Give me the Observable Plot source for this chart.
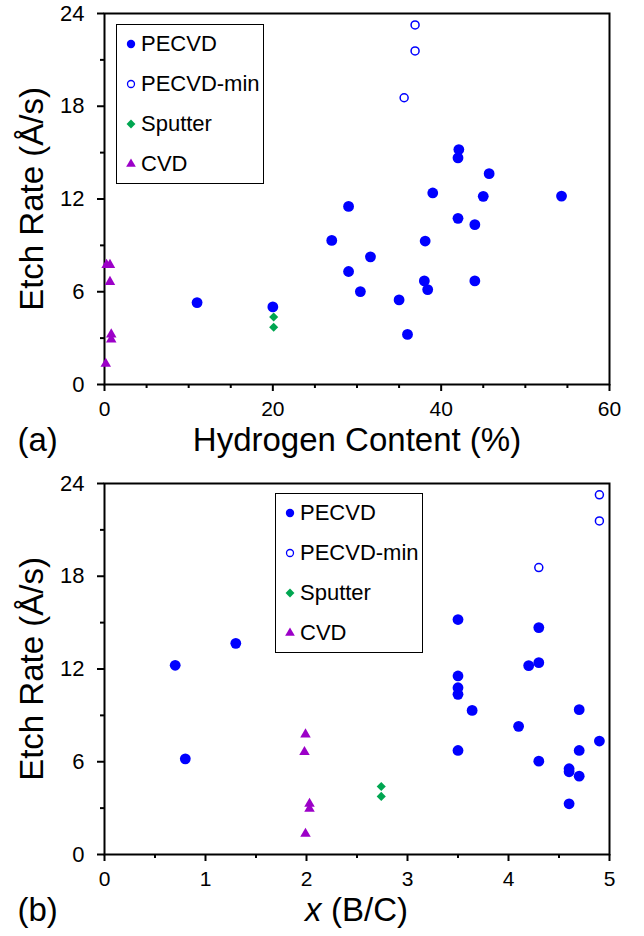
<!DOCTYPE html>
<html>
<head>
<meta charset="utf-8">
<script src="https://cdn.jsdelivr.net/npm/d3@7"></script>
<script src="https://cdn.jsdelivr.net/npm/@observablehq/plot@0.6"></script>
<style>
  html, body { margin: 0; padding: 0; background: white; }
  .panel { position: relative; width: 644px; }
</style>
</head>
<body>
<div id="panelA" class="panel"></div>
<div id="panelB" class="panel"></div>
<script>
// ---------- data ----------
const seriesNames = ["PECVD", "PECVD-min", "Sputter", "CVD"];
const seriesColors = ["#0000ff", "#0000ff", "#00a651", "#9c00c8"];

// Panel (a): Hydrogen content (%) vs etch rate (Å/s)
const pecvdH     = [11.0, 20.0, 27.0, 29.0, 29.0, 30.4, 31.6, 35.0, 36.0, 38.1, 38.0, 38.4, 39.0, 42.1, 42.0, 42.0, 44.0, 44.0, 45.0, 45.7, 54.3];
const pecvdRateA = [5.30, 5.02, 9.32, 11.52, 7.31, 6.01, 8.26, 5.47, 3.24, 9.28, 6.70, 6.14, 12.39, 15.2, 14.66, 10.75, 10.34, 6.70, 12.17, 13.64, 12.19];
const minH       = [36.9, 36.9, 35.6];
const minRateA   = [23.26, 21.58, 18.55];
const sputH      = [20.1, 20.1];
const sputRateA  = [4.37, 3.70];
const cvdH       = [0.25, 0.65, 0.65, 0.8, 0.8, 0.15];
const cvdRateA   = [7.74, 7.74, 6.64, 3.24, 2.92, 1.34];

// Panel (b): x (B/C) vs etch rate (Å/s)
const pecvdX     = [0.70, 0.80, 1.30, 3.50, 3.50, 3.50, 3.50, 3.64, 3.50, 4.10, 4.20, 4.30, 4.30, 4.30, 4.60, 4.60, 4.60, 4.70, 4.70, 4.70, 4.90];
const pecvdRateB = [12.24, 6.19, 13.66, 15.2, 11.55, 10.79, 10.36, 9.32, 6.73, 8.29, 12.22, 12.41, 14.68, 6.04, 5.55, 5.35, 3.28, 9.37, 6.73, 5.07, 7.34];
const minX       = [4.9, 4.9, 4.3];
const minRateB   = [23.27, 21.58, 18.56];
const sputX      = [2.74, 2.74];
const sputRateB  = [4.40, 3.76];
const cvdX       = [1.99, 1.98, 2.03, 2.03, 1.99];
const cvdRateB   = [7.77, 6.63, 3.28, 2.96, 1.34];

// ticks
const yMajor  = [0, 6, 12, 18, 24];
const yMinor  = [3, 9, 15, 21];
const xMajorA = [0, 20, 40, 60];
const xMinorA = [5, 10, 15, 25, 30, 35, 45, 50, 55];
const xMajorB = [0, 1, 2, 3, 4, 5];
const xMinorB = [0.5, 1.5, 2.5, 3.5, 4.5];

const yTitle  = "Etch Rate (Å/s)";
const xTitleA = "Hydrogen Content (%)";
const xTitleBItalic = "x";
const xTitleBRest = "(B/C)";
const tagA = "(a)";
const tagB = "(b)";

// ---------- helpers ----------
const FONT = "'Liberation Sans', Arial, Helvetica, sans-serif";
const pts = (xs, ys) => xs.map((x, i) => ({x, y: ys[i]}));

function seriesMarks(xs) {
  return [
    Plot.dot(pts(xs[3][0], xs[3][1]), {x: "x", y: "y", symbol: "triangle", r: 3.9, fill: seriesColors[3]}),
    Plot.dot(pts(xs[2][0], xs[2][1]), {x: "x", y: "y", symbol: "diamond2", r: 4.1, fill: seriesColors[2]}),
    Plot.dot(pts(xs[1][0], xs[1][1]), {x: "x", y: "y", symbol: "circle", r: 4.0, fill: "none", stroke: seriesColors[1], strokeWidth: 1.5}),
    Plot.dot(pts(xs[0][0], xs[0][1]), {x: "x", y: "y", symbol: "circle", r: 5.4, fill: seriesColors[0]})
  ];
}

function axes(xMajor, xMinor) {
  return [
    Plot.axisY(yMinor, {tickSize: 4, tickFormat: () => "", strokeWidth: 2, label: null}),
    Plot.axisY(yMajor, {tickSize: 7, tickPadding: 13, fontSize: 22, strokeWidth: 2, label: null}),
    Plot.axisX(xMinor, {tickSize: 4, tickFormat: () => "", strokeWidth: 2, label: null}),
    Plot.axisX(xMajor, {tickSize: 7, tickPadding: 10, fontSize: 21, strokeWidth: 2, label: null}),
    Plot.frame({stroke: "black", strokeWidth: 2})
  ];
}

function legendBox(left, top) {
  const box = document.createElement("div");
  box.style.cssText = `position:absolute;left:${left}px;top:${top}px;width:148px;height:160px;border:1.5px solid #000;box-sizing:border-box;background:white;font-family:${FONT};font-size:22px;color:#000;`;
  const types = [d3.symbolCircle, d3.symbolCircle, d3.symbolDiamond2, d3.symbolTriangle];
  const sizes = [Math.PI * 4.2 * 4.2, Math.PI * 3.5 * 3.5, Math.PI * 4.0 * 4.0, Math.PI * 3.6 * 3.6];
  seriesNames.forEach((name, i) => {
    const cy = 19 + i * 40;
    const svgNS = "http://www.w3.org/2000/svg";
    const svg = document.createElementNS(svgNS, "svg");
    svg.setAttribute("width", 14); svg.setAttribute("height", 14);
    svg.style.cssText = `position:absolute;left:${14 - 7}px;top:${cy - 7}px;overflow:visible;`;
    const p = document.createElementNS(svgNS, "path");
    p.setAttribute("d", d3.symbol(types[i], sizes[i])());
    p.setAttribute("transform", "translate(7,7)");
    if (i === 1) { p.setAttribute("fill", "none"); p.setAttribute("stroke", seriesColors[i]); p.setAttribute("stroke-width", 1.3); }
    else p.setAttribute("fill", seriesColors[i]);
    svg.appendChild(p);
    box.appendChild(svg);
    const t = document.createElement("div");
    t.textContent = name;
    t.style.cssText = `position:absolute;left:24px;top:${cy - 13}px;height:26px;line-height:26px;white-space:nowrap;`;
    box.appendChild(t);
  });
  return box;
}

// ---------- panel (a) ----------
const plotA = Plot.plot({
  width: 644, height: 470,
  marginLeft: 104, marginRight: 35, marginTop: 13, marginBottom: 86,
  style: {fontFamily: FONT, color: "black", background: "white", overflow: "visible"},
  x: {domain: [0, 60], label: null},
  y: {domain: [0, 24], label: null},
  marks: [
    ...axes(xMajorA, xMinorA),
    ...seriesMarks([[pecvdH, pecvdRateA], [minH, minRateA], [sputH, sputRateA], [cvdH, cvdRateA]]),
    Plot.text([yTitle], {text: d => d, frameAnchor: "left", textAnchor: "middle", rotate: -90, dx: -72, fontSize: 33}),
    Plot.text([xTitleA], {text: d => d, frameAnchor: "bottom", textAnchor: "middle", dy: 66, fontSize: 33}),
    Plot.text([tagA], {text: d => d, frameAnchor: "bottom-left", textAnchor: "start", dx: -87, dy: 66, fontSize: 33})
  ]
});
const pa = document.getElementById("panelA");
pa.appendChild(plotA);
pa.appendChild(legendBox(116, 24));

// ---------- panel (b) ----------
const plotB = Plot.plot({
  width: 644, height: 466,
  marginLeft: 104, marginRight: 35, marginTop: 13, marginBottom: 82,
  style: {fontFamily: FONT, color: "black", background: "white", overflow: "visible"},
  x: {domain: [0, 5], label: null},
  y: {domain: [0, 24], label: null},
  marks: [
    ...axes(xMajorB, xMinorB),
    ...seriesMarks([[pecvdX, pecvdRateB], [minX, minRateB], [sputX, sputRateB], [cvdX, cvdRateB]]),
    Plot.text([yTitle], {text: d => d, frameAnchor: "left", textAnchor: "middle", rotate: -90, dx: -72, fontSize: 33}),
    Plot.text([xTitleBItalic], {text: d => d, frameAnchor: "bottom", textAnchor: "start", dx: -52, dy: 66, fontSize: 33, fontStyle: "italic"}),
    Plot.text([xTitleBRest], {text: d => d, frameAnchor: "bottom", textAnchor: "start", dx: -26, dy: 66, fontSize: 33}),
    Plot.text([tagB], {text: d => d, frameAnchor: "bottom-left", textAnchor: "start", dx: -87, dy: 66, fontSize: 33})
  ]
});
const pb = document.getElementById("panelB");
pb.appendChild(plotB);
pb.appendChild(legendBox(275, 23));
</script>
</body>
</html>
